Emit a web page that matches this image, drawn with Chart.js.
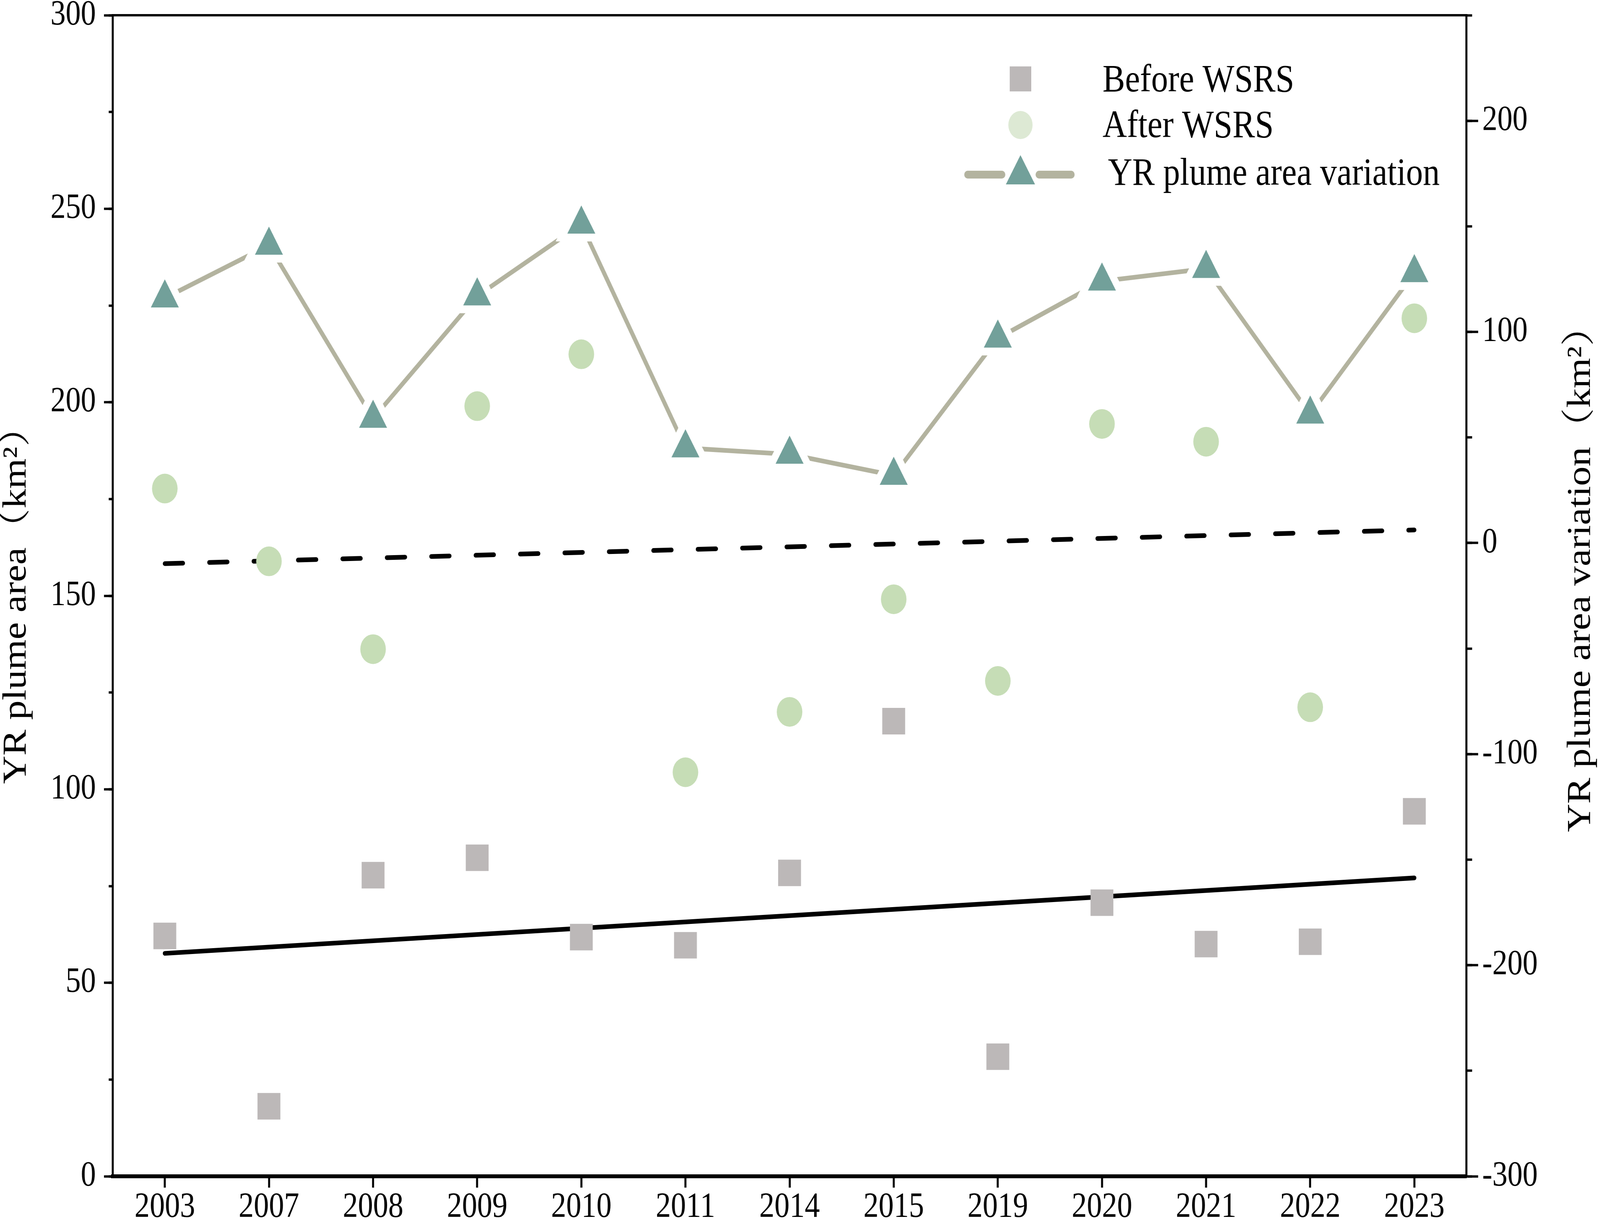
<!DOCTYPE html>
<html>
<head>
<meta charset="utf-8">
<script src="https://cdn.jsdelivr.net/npm/chart.js@4.4.1/dist/chart.umd.min.js"></script>
<style>
  html, body { margin: 0; padding: 0; background: #ffffff; overflow: hidden; }
  #wrap { width: 4754px; height: 3128px; transform-origin: 0 0; }
</style>
</head>
<body>
<div id="wrap"><canvas id="plume-chart" width="4754" height="3128"></canvas></div>
<script>
const years = ['2003', '2007', '2008', '2009', '2010', '2011', '2014', '2015', '2019', '2020', '2021', '2022', '2023'];

// YR plume area (km2), left axis
const beforeWSRS = [62.1, 18.1, 77.8, 82.3, 61.8, 59.7, 78.4, 117.6, 30.9, 70.7, 60.0, 60.6, 94.3];
const afterWSRS = [177.7, 158.9, 136.2, 199.0, 212.4, 104.4, 120.0, 149.1, 128.0, 194.4, 189.8, 121.2, 221.7];

// YR plume area variation (km2), right axis
const areaVariation = [116, 141, 59, 117, 151, 45, 42, 32, 97, 124, 130, 61, 128];

const trendBefore = [57.6, null, null, null, null, null, null, null, null, null, null, null, 77.1];
const trendAfter = [158.3, null, null, null, null, null, null, null, null, null, null, null, 167.0];

const seriesNames = ['Before WSRS', 'After WSRS', 'YR plume area variation'];
const leftRange = [0, 300];
const rightRange = [-300, 250];

const FONT = "'Liberation Serif', 'Noto Serif CJK SC', 'Noto Sans CJK SC', serif";
const leftTitle = 'YR plume area（km²）';
const rightTitle = 'YR plume area variation（km²）';

const squareColor = '#bcb8b8';
const circleColor = '#c6ddb6';
const circleLegendColor = '#dde9d4';
const triColor = '#72a09a';
const varLineColor = '#b3b39f';

// the window is narrower than 4754, so the 4754x3128 drawing is fitted to it
const wrap = document.getElementById('wrap');
wrap.style.transform = 'scale(' + (window.innerWidth / 4754) + ',' + (window.innerHeight / 3128) + ')';

Chart.defaults.font.family = FONT;
Chart.defaults.color = '#000000';

// legend drawn inside the plot, like the original
const insideLegend = {
    id: 'insideLegend',
    afterDraw(chart) {
        const ctx = chart.ctx;
        const area = chart.chartArea;
        const mx = area.left + 2697;
        const rows = [area.top + 163, area.top + 281, area.top + 408];
        ctx.save();

        // square
        ctx.fillStyle = squareColor;
        ctx.fillRect(mx - 32, rows[0] - 32, 64, 64);

        // circle
        ctx.fillStyle = circleLegendColor;
        ctx.beginPath();
        ctx.arc(mx, rows[1], 36, 0, Math.PI * 2);
        ctx.fill();

        // line + triangle
        ctx.strokeStyle = varLineColor;
        ctx.lineWidth = 20;
        ctx.lineCap = 'round';
        ctx.beginPath();
        ctx.moveTo(area.left + 2540, rows[2]);
        ctx.lineTo(mx - 55, rows[2]);
        ctx.moveTo(mx + 55, rows[2]);
        ctx.lineTo(area.left + 2848, rows[2]);
        ctx.stroke();
        const r = 50;
        ctx.fillStyle = triColor;
        ctx.beginPath();
        ctx.moveTo(mx, rows[2] - r);
        ctx.lineTo(mx + r * Math.sin(2 * Math.PI / 3), rows[2] + r / 2);
        ctx.lineTo(mx - r * Math.sin(2 * Math.PI / 3), rows[2] + r / 2);
        ctx.closePath();
        ctx.fill();

        ctx.fillStyle = '#000000';
        ctx.font = '100px ' + FONT;
        ctx.textAlign = 'left';
        ctx.textBaseline = 'alphabetic';
        ctx.fillText(seriesNames[0], area.left + 2941, area.top + 195);
        ctx.fillText(seriesNames[1], area.left + 2941, area.top + 312);
        ctx.fillText(seriesNames[2], area.left + 2957, area.top + 434);

        // right axis title reads bottom to top in the original
        const s = chart.scales.y2;
        const tx = s.right - 56;
        const ty = (s.top + s.bottom) / 2 - 67;
        ctx.translate(tx, ty);
        ctx.rotate(-Math.PI / 2);
        ctx.textAlign = 'center';
        ctx.textBaseline = 'middle';
        ctx.fillText(rightTitle, 0, 0);
        ctx.restore();
    }
};

// top label is allowed to stick out above the frame, as in the original
function noTopPadding(scale) {
    scale.paddingTop = 0;
}

const plumeCanvas = document.getElementById('plume-chart');

let plumeChart = new Chart(plumeCanvas, {
    type: 'line',
    data: {
        labels: years,
        datasets: [
            {
                label: seriesNames[2],
                data: areaVariation,
                yAxisID: 'y2',
                xAxisID: 'x',
                order: 0,
                borderColor: varLineColor,
                borderWidth: 12,
                borderCapStyle: 'round',
                tension: 0,
                pointStyle: 'triangle',
                pointRadius: 68,
                pointBackgroundColor: triColor,
                pointBorderColor: '#ffffff',
                pointBorderWidth: 20,
            },
            {
                label: seriesNames[0],
                data: beforeWSRS,
                yAxisID: 'y',
                xAxisID: 'x',
                order: 1,
                showLine: false,
                pointStyle: 'rect',
                pointRadius: 48,
                pointBackgroundColor: squareColor,
                pointBorderWidth: 0,
            },
            {
                label: seriesNames[1],
                data: afterWSRS,
                yAxisID: 'y',
                xAxisID: 'x',
                order: 1,
                showLine: false,
                pointStyle: 'circle',
                pointRadius: 38,
                pointBackgroundColor: circleColor,
                pointBorderWidth: 0,
            },
            {
                label: 'trend before',
                data: trendBefore,
                yAxisID: 'y',
                xAxisID: 'x',
                order: 2,
                spanGaps: true,
                borderColor: '#000000',
                borderWidth: 12,
                borderCapStyle: 'round',
                pointRadius: 0,
            },
            {
                label: 'trend after',
                data: trendAfter,
                yAxisID: 'y',
                xAxisID: 'x',
                order: 2,
                spanGaps: true,
                borderColor: '#000000',
                borderWidth: 12,
                borderDash: [54, 78],
                borderCapStyle: 'round',
                pointRadius: 0,
            },
        ]
    },
    options: {
        responsive: false,
        devicePixelRatio: 1,
        animation: false,
        layout: { autoPadding: false, padding: { top: 39, right: 0, bottom: -14, left: 0 } },
        plugins: {
            legend: { display: false },
            tooltip: { enabled: false },
        },
        scales: {
            x: {
                type: 'category',
                position: 'bottom',
                offset: true,
                grid: { drawOnChartArea: false, offset: false, tickLength: 29, tickWidth: 6, tickColor: '#000000' },
                border: { display: true, width: 10, color: '#000000' },
                ticks: { font: { size: 90, lineHeight: 0.8 }, padding: 15, maxRotation: 0, autoSkip: false },
            },
            xTop: {
                type: 'category',
                position: 'top',
                display: true,
                offset: true,
                grid: { display: false, drawTicks: false },
                border: { display: true, width: 6, color: '#000000' },
                ticks: { display: false },
            },
            y: {
                type: 'linear',
                position: 'left',
                weight: 1,
                min: leftRange[0],
                max: leftRange[1],
                ticks: { stepSize: 50, font: { size: 90, lineHeight: 0.8 }, padding: 24 },
                grid: { drawOnChartArea: false, tickLength: 26, tickWidth: 6, tickColor: '#000000' },
                border: { width: 6, color: '#000000' },
                title: { display: true, text: leftTitle, font: { size: 100, lineHeight: 1 }, padding: { top: 0, bottom: 26 } },
                afterFit: noTopPadding,
            },
            yMinor: {
                type: 'linear',
                position: 'left',
                weight: 0,
                display: true,
                min: leftRange[0],
                max: leftRange[1],
                ticks: { stepSize: 25, display: false },
                grid: { drawOnChartArea: false, tickLength: 12, tickWidth: 6, tickColor: '#000000' },
                border: { display: false },
                afterFit(scale) { scale.width = 0; scale.paddingTop = 0; },
            },
            y2: {
                type: 'linear',
                position: 'right',
                weight: 1,
                min: rightRange[0],
                max: rightRange[1],
                ticks: { stepSize: 100, includeBounds: false, font: { size: 90, lineHeight: 0.8 }, padding: 12 },
                grid: { drawOnChartArea: false, tickLength: 35, tickWidth: 6, tickColor: '#000000' },
                border: { width: 6, color: '#000000' },
                title: { display: true, text: rightTitle, color: 'rgba(0,0,0,0)', font: { size: 100, lineHeight: 1 }, padding: { top: 18, bottom: 55 } },
                afterFit: noTopPadding,
            },
            y2Minor: {
                type: 'linear',
                position: 'right',
                weight: 0,
                display: true,
                min: rightRange[0],
                max: rightRange[1],
                ticks: { stepSize: 50, includeBounds: false, display: false },
                grid: { drawOnChartArea: false, tickLength: 17, tickWidth: 6, tickColor: '#000000' },
                border: { display: false },
                afterFit(scale) { scale.width = 0; scale.paddingTop = 0; },
            },
        }
    },
    plugins: [insideLegend]
});
</script>
</body>
</html>
